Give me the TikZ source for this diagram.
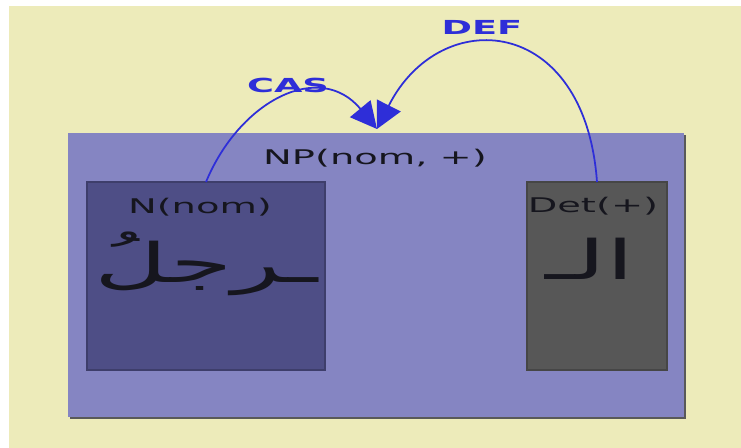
\documentclass[tikz,border=0pt]{standalone}
\usepackage{fontspec}
\setsansfont{DejaVu Sans}
\newfontfamily\arabicfont[Script=Arabic]{DejaVu Sans}
\TeXXeTstate=1
\usetikzlibrary{arrows.meta}
\definecolor{paper}{HTML}{EDEBBA}
\definecolor{npfill}{HTML}{8585C2}
\definecolor{nfill}{HTML}{4E4E86}
\definecolor{detfill}{HTML}{575757}
\definecolor{ink}{HTML}{16161E}
\definecolor{linkblue}{HTML}{2E2ED8}
\tikzset{>=latex}
\tikzset{
    label text/.style={font=\sffamily\fontsize{11.5}{13}\selectfont, text=ink, xscale=1.9, transform shape, inner sep=0pt},
    word/.style={font=\arabicfont\fontsize{31}{34}\selectfont, text=ink, xscale=1.85, transform shape, inner sep=0pt},
    box/.style={draw=#1!80!black, fill=#1, line width=0.6pt},
    link/.style={linkblue, line width=1pt, -{Triangle[width=15pt, length=15pt]}},
    rel/.style={font=\sffamily\bfseries\fontsize{11}{13}\selectfont, text=linkblue, xscale=1.9, transform shape, inner sep=0pt}
}

\begin{document}
\begin{tikzpicture}[x=0.02cm, y=-0.02cm]
    \useasboundingbox (0, 0) rectangle (741, 448);
    \fill[paper] (9, 6) rectangle (741, 448);
    % phrase box with its shadow edge
    \fill[black!65] (70, 135) rectangle (686, 419);
    \fill[npfill] (68, 133) rectangle (684, 417);
    \node[label text] (np) at (375, 158) {NP(nom, +)};
    % daughters
    \draw[box=nfill] (87, 182) rectangle (325, 370);
    \draw[box=detfill] (527, 182) rectangle (667, 370);
    \coordinate (nbox) at (206, 182);
    \coordinate (detbox) at (597, 182);
    \node[label text] (nlab) at (200, 207) {N(nom)};
    \node[label text] (detlab) at (593, 206) {Det(+)};
    \node[word] (noun) at (206, 264) {\beginR ـرجلُ\endR};
    \node[word] (article) at (590, 259) {\beginR الـ\endR};
    % agreement arcs
    \coordinate (head) at (377, 129);
    \draw[link] (nbox) .. controls (240, 100) and (320, 60) .. (head);
    \draw[link] (detbox) .. controls (585, 14) and (440, 4) .. (head);
    \node[rel] (cas) at (288, 85) {CAS};
    \node[rel] (def) at (482, 27) {DEF};
\end{tikzpicture}
\end{document}
